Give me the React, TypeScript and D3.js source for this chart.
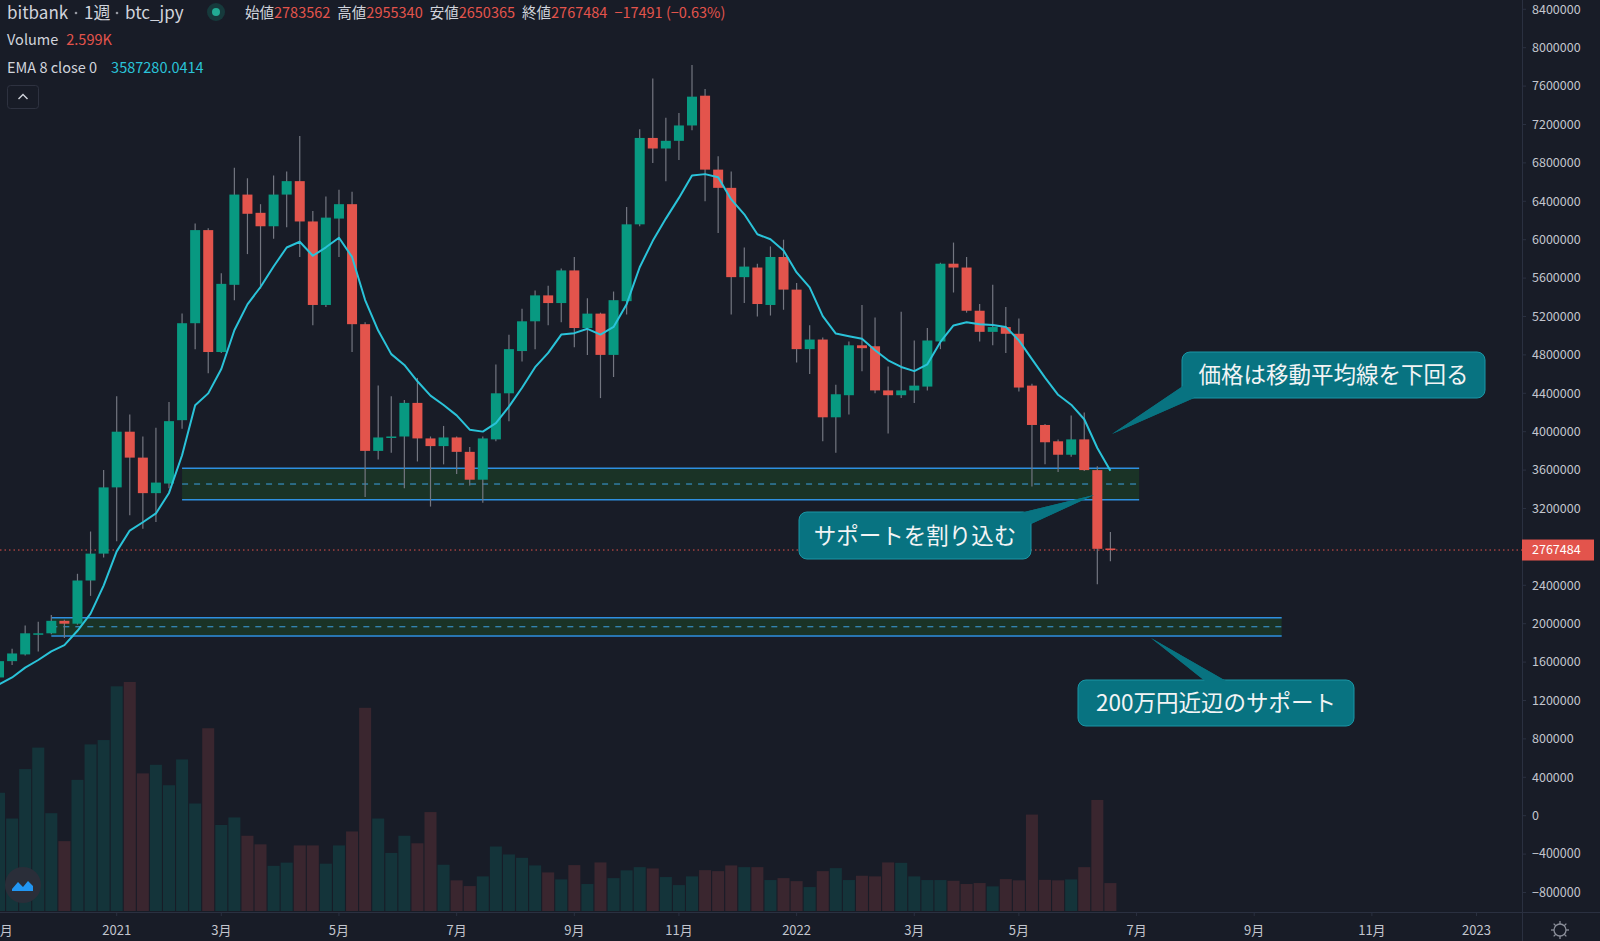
import React from "react";
import * as d3 from "d3";

// ---- data (weekly bars, bitbank BTC/JPY, from week of 2020-11-02) ----
const opens = [1.44,1.61,1.68,1.89,1.90,2.03,2.00,2.45,2.73,3.42,4.00,3.73,3.36,3.46,4.12,5.13,6.10,4.83,5.53,6.47,6.28,6.14,6.47,6.61,6.19,5.32,6.22,6.37,5.12,3.80,3.94,3.95,4.30,3.93,3.85,3.94,3.79,3.50,3.92,4.40,4.84,5.15,5.42,5.34,5.68,5.08,5.23,4.80,5.36,6.16,7.06,6.95,7.03,7.19,7.50,6.73,6.54,5.61,5.71,5.32,5.82,5.48,4.86,4.96,4.15,4.38,4.90,4.89,4.43,4.38,4.43,4.47,4.94,5.75,5.71,5.26,5.04,5.09,5.02,4.48,4.07,3.90,3.76,3.92,3.60,2.783562];
const highs = [1.63,1.74,1.98,2.02,2.09,2.04,2.52,2.96,3.60,4.37,4.18,3.95,4.04,4.31,5.23,6.17,6.12,5.65,6.75,6.64,6.37,6.67,6.71,7.08,6.30,6.45,6.52,6.50,5.14,4.48,4.37,4.33,4.56,3.95,4.06,3.95,3.84,3.95,4.70,5.01,5.28,5.47,5.52,5.70,5.82,5.39,5.24,5.46,6.34,7.15,7.68,7.27,7.32,7.82,7.57,6.87,6.71,5.92,5.75,5.93,6.00,5.55,5.11,4.98,4.49,4.94,5.32,5.19,4.68,5.25,4.95,5.08,5.76,5.97,5.82,5.33,5.53,5.30,5.18,4.50,4.08,3.92,4.17,4.20,3.64,2.955340];
const lows = [1.42,1.57,1.67,1.71,1.89,1.85,1.99,2.29,2.69,2.86,3.13,2.99,3.06,3.41,4.03,4.86,4.61,4.82,5.37,5.85,5.49,6.01,6.13,5.82,5.11,5.30,5.82,4.83,3.32,3.71,3.78,3.41,3.69,3.22,3.66,3.56,3.44,3.26,3.90,4.11,4.73,4.86,5.11,5.14,4.88,4.80,4.35,4.57,5.22,6.14,6.80,6.61,6.83,7.14,6.40,6.07,5.22,5.34,5.20,5.21,5.27,4.72,4.60,3.90,3.78,4.18,4.63,4.40,3.98,4.35,4.30,4.43,4.86,5.45,5.24,4.94,4.90,4.82,4.42,3.43,3.66,3.58,3.74,3.59,2.41,2.650365];
const closes = [1.61,1.69,1.90,1.90,2.03,2.00,2.45,2.73,3.42,4.00,3.73,3.36,3.47,4.11,5.13,6.10,4.83,5.54,6.47,6.27,6.14,6.47,6.61,6.19,5.32,6.23,6.37,5.12,3.80,3.94,3.95,4.30,3.93,3.85,3.94,3.79,3.50,3.93,4.40,4.86,5.15,5.42,5.34,5.68,5.08,5.23,4.80,5.37,6.16,7.06,6.95,7.03,7.19,7.49,6.73,6.54,5.61,5.72,5.33,5.82,5.48,4.86,4.96,4.15,4.39,4.90,4.87,4.43,4.38,4.43,4.48,4.95,5.75,5.71,5.26,5.04,5.09,5.02,4.46,4.07,3.89,3.76,3.92,3.60,2.78,2.767484];
// volume in thousand BTC
const volumes = [11.0,8.6,13.2,15.2,9.1,6.5,12.2,15.5,15.9,20.9,21.3,12.8,13.6,11.7,14.1,10.0,17.0,8.0,8.7,7.0,6.2,4.2,4.5,6.1,6.1,4.4,6.1,7.4,18.9,8.6,5.4,7.0,6.3,9.2,4.3,2.85,2.32,3.22,6.0,5.26,4.95,4.24,3.59,2.94,4.27,2.51,4.52,3.06,3.78,4.08,3.96,3.16,2.41,3.22,3.8,3.71,4.24,4.08,4.08,2.88,3.06,2.78,2.23,3.71,3.99,2.88,3.28,3.22,4.52,4.48,3.22,2.88,2.88,2.81,2.51,2.6,2.29,2.97,2.85,8.97,2.9,2.85,2.94,4.08,10.33,2.599];

const timeTickIdx = [0, 9, 17, 26, 35, 44, 52, 61, 70, 78, 87, 96, 105, 113];
const timeTickLabels = ["11月","2021","3月","5月","7月","9月","11月","2022","3月","5月","7月","9月","11月","2023"];
const priceTicks = d3.range(-800000, 8400001, 400000);

const lastPrice = 2767484;
const upperZone = { top: 3.62, mid: 3.455, bottom: 3.29, fromIdx: 14, toIdx: 87.2 };
const lowerZone = { top: 2.063, mid: 1.968, bottom: 1.872, fromIdx: 4, toIdx: 98.1 };

const emaSeed = 1.30;

// ---- styles ----
const BG = "#181c27";
const UP = "#089981";
const DOWN = "#e3544c";
const WICK = "#737680";
const VOL_UP = "#14343a";
const VOL_DOWN = "#3a262f";
const EMA_C = "#2ac3d9";
const AXIS_TXT = "#c3c6ce";
const LINE_C = "#2a3040";
const ZONE_LINE = "#2e8fe0";
const FONT = "'Noto Sans CJK JP', 'Noto Sans', sans-serif";

const W = 1600, H = 941;
const AXIS_X = 1522;
const PANE_BOTTOM = 912;

export default function App() {
  const M = 1e6;
  const x = d3.scaleLinear().domain([9, 113]).range([116.7, 1476.5]);
  const y = d3.scaleLinear().domain([0, 8400000]).range([815.7, 9.3]);
  const yv = d3.scaleLinear().domain([0, d3.max(volumes) as number]).range([PANE_BOTTOM - 1, PANE_BOTTOM - 230]);

  const bodyW = 10;
  const volW = 12;

  // EMA 8 of closes
  const alpha = 2 / 9;
  const ema: number[] = [];
  let e = emaSeed;
  closes.forEach((c) => { e = e + alpha * (c - e); ema.push(e); });
  const emaLine = d3.line<number>().x((_, i) => x(i)).y((v) => y(v * M))(ema) as string;

  const bars = closes.map((c, i) => ({ i, o: opens[i], h: highs[i], l: lows[i], c, v: volumes[i] }));

  const zone = (z: typeof upperZone, key: string) => {
    const x0 = x(z.fromIdx), x1 = x(z.toIdx);
    return (
      <g key={key}>
        <rect x={x0} y={y(z.top * M)} width={x1 - x0} height={y(z.bottom * M) - y(z.top * M)} fill="#1a3326" />
        <line x1={x0} x2={x1} y1={y(z.top * M)} y2={y(z.top * M)} stroke={ZONE_LINE} strokeWidth={1.5} />
        <line x1={x0} x2={x1} y1={y(z.bottom * M)} y2={y(z.bottom * M)} stroke={ZONE_LINE} strokeWidth={1.5} />
        <line x1={x0} x2={x1} y1={y(z.mid * M)} y2={y(z.mid * M)} stroke="#3ca0e0" strokeWidth={1} strokeDasharray="6 6" />
      </g>
    );
  };

  const callout = (box: { x: number; y: number; w: number; h: number }, pointer: [number, number][], text: string, key: string) => (
    <g key={key}>
      <polygon points={pointer.map((p) => p.join(",")).join(" ")} fill="#087381" />
      <rect x={box.x} y={box.y} width={box.w} height={box.h} rx={8} fill="#087381" stroke="#1a96a6" strokeWidth={1} />
      <polygon points={pointer.map((p) => p.join(",")).join(" ")} fill="#087381" />
      <text x={box.x + box.w / 2} y={box.y + box.h / 2} dy="0.36em" textAnchor="middle" fill="#f2f4f5" fontSize={22.5} fontFamily={FONT}>{text}</text>
    </g>
  );

  return (
    <svg width={W} height={H} style={{ position: "fixed", left: 0, top: 0, background: BG }} fontFamily={FONT}>
      <rect width={W} height={H} fill={BG} />

      {/* volume */}
      <g>
        {bars.map((b) => (
          <rect key={"v" + b.i} x={x(b.i) - volW / 2} y={yv(b.v)} width={volW} height={yv(0) - yv(b.v)} fill={b.c >= b.o ? VOL_UP : VOL_DOWN} />
        ))}
      </g>

      {/* zones */}
      {zone(upperZone, "uz")}
      {zone(lowerZone, "lz")}

      {/* last price line */}
      <line x1={0} x2={AXIS_X} y1={y(lastPrice)} y2={y(lastPrice)} stroke="#e3544c" strokeWidth={1} strokeDasharray="1.5 3" />

      {/* candles */}
      <g>
        {bars.map((b) => {
          const up = b.c >= b.o;
          const top = y(Math.max(b.o, b.c) * M);
          const bot = y(Math.min(b.o, b.c) * M);
          return (
            <g key={"c" + b.i}>
              <line x1={x(b.i)} x2={x(b.i)} y1={y(b.h * M)} y2={y(b.l * M)} stroke={WICK} strokeWidth={1.2} />
              <rect x={x(b.i) - bodyW / 2} y={top} width={bodyW} height={Math.max(1.5, bot - top)} fill={up ? UP : DOWN} />
            </g>
          );
        })}
      </g>

      {/* EMA */}
      <path d={emaLine} fill="none" stroke={EMA_C} strokeWidth={2} strokeLinejoin="round" />

      {/* callouts */}
      {callout({ x: 1182, y: 352, w: 303, h: 46 }, [[1112, 434], [1183, 386], [1194, 398]], "価格は移動平均線を下回る", "c1")}
      {callout({ x: 799, y: 512, w: 232, h: 47 }, [[1094, 495], [1020, 513], [1031, 524]], "サポートを割り込む", "c2")}
      {callout({ x: 1078, y: 680, w: 276, h: 46 }, [[1151, 638], [1205, 681], [1226, 681]], "200万円近辺のサポート", "c3")}

      {/* price axis */}
      <rect x={AXIS_X} y={0} width={W - AXIS_X} height={H} fill={BG} />
      <line x1={AXIS_X + 0.5} x2={AXIS_X + 0.5} y1={0} y2={H} stroke={LINE_C} />
      {priceTicks.map((t) => (
        <g key={"pt" + t}>
          <line x1={AXIS_X} x2={AXIS_X + 4} y1={y(t)} y2={y(t)} stroke={LINE_C} />
          <text x={AXIS_X + 10} y={y(t)} dy="0.35em" fill={AXIS_TXT} fontSize={12.5}>{t < 0 ? "−" + Math.abs(t) : String(t)}</text>
        </g>
      ))}
      <rect x={AXIS_X} y={y(lastPrice) - 10.5} width={72} height={21} fill="#e3544c" />
      <text x={AXIS_X + 10} y={y(lastPrice)} dy="0.35em" fill="#ffffff" fontSize={12.5}>{String(lastPrice)}</text>

      {/* time axis */}
      <rect x={0} y={PANE_BOTTOM} width={AXIS_X} height={H - PANE_BOTTOM} fill={BG} />
      <line x1={0} x2={W} y1={PANE_BOTTOM + 0.5} y2={PANE_BOTTOM + 0.5} stroke={LINE_C} />
      {timeTickIdx.map((idx, k) => (
        <g key={"tt" + k}>
          <line x1={x(idx)} x2={x(idx)} y1={PANE_BOTTOM} y2={PANE_BOTTOM + 4} stroke={LINE_C} />
          <text x={x(idx)} y={930} dy="0.35em" textAnchor="middle" fill={AXIS_TXT} fontSize={13}>{timeTickLabels[k]}</text>
        </g>
      ))}

      {/* gear icon */}
      <g transform="translate(1560,930)" stroke="#8a8e99" fill="none" strokeWidth={1.3}>
        <circle r={6} />
        {d3.range(8).map((k) => {
          const a = (k * Math.PI) / 4;
          return <line key={"g" + k} x1={Math.cos(a) * 6} y1={Math.sin(a) * 6} x2={Math.cos(a) * 9} y2={Math.sin(a) * 9} />;
        })}
      </g>

      {/* logo */}
      <g transform="translate(23,885)">
        <circle r={18} fill="#2a2e39" />
        <path d="M-11,4 L-5,-3 L0,2 L5,-4 L10,1 L10,6 L-11,6 Z" fill="#2196f3" />
      </g>

      {/* header legend */}
      <g fontFamily={FONT}>
        <text x={7} y={13} dy="0.35em" fill="#d1d4dc" fontSize={17}>bitbank</text>
        <circle cx={76} cy={13} r={1.3} fill="#9598a1" />
        <text x={84} y={13} dy="0.35em" fill="#d1d4dc" fontSize={17}>1週</text>
        <circle cx={117} cy={13} r={1.3} fill="#9598a1" />
        <text x={125} y={13} dy="0.35em" fill="#d1d4dc" fontSize={17}>btc_jpy</text>
        <circle cx={216} cy={12} r={9} fill="#163a3c" />
        <circle cx={216} cy={12} r={4} fill="#22ab94" />
        <text x={245} y={13} dy="0.35em" fontSize={14.5}>
          <tspan fill="#d1d4dc">始値</tspan><tspan fill={DOWN}>2783562</tspan>
          <tspan fill="#d1d4dc" dx={7}>高値</tspan><tspan fill={DOWN}>2955340</tspan>
          <tspan fill="#d1d4dc" dx={7}>安値</tspan><tspan fill={DOWN}>2650365</tspan>
          <tspan fill="#d1d4dc" dx={7}>終値</tspan><tspan fill={DOWN}>2767484</tspan>
          <tspan fill={DOWN} dx={7}>−17491 (−0.63%)</tspan>
        </text>
        <text x={7} y={40} dy="0.35em" fontSize={14.5}>
          <tspan fill="#d1d4dc">Volume</tspan><tspan fill={DOWN} dx={8}>2.599K</tspan>
        </text>
        <text x={7} y={67.5} dy="0.35em" fontSize={14.5}>
          <tspan fill="#d1d4dc">EMA 8 close 0</tspan><tspan fill={EMA_C} dx={14}>3587280.0414</tspan>
        </text>
        <rect x={7.5} y={85.5} width={31} height={23} rx={3} fill="none" stroke="#2e3240" />
        <path d="M18.5,99 L23,94.5 L27.5,99" fill="none" stroke="#d1d4dc" strokeWidth={1.4} />
      </g>
    </svg>
  );
}
